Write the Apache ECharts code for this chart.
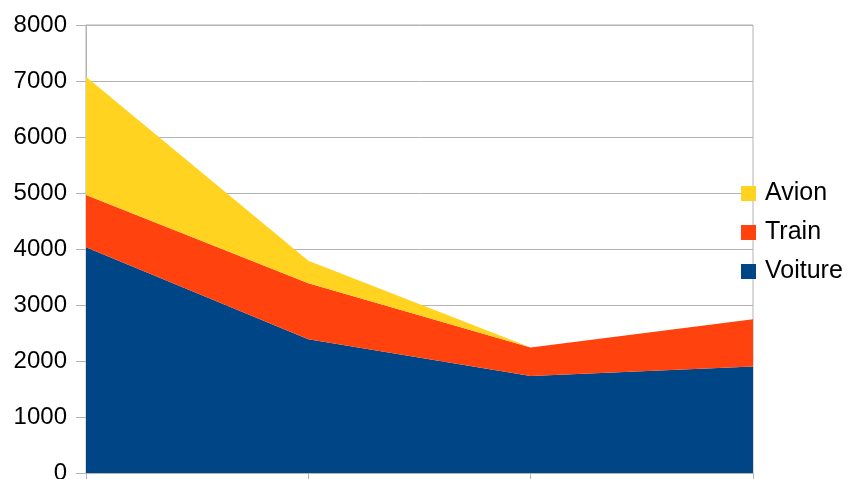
<!DOCTYPE html>
<html>
<head>
<meta charset="utf-8">
<script src="https://cdn.jsdelivr.net/npm/echarts@6/dist/echarts.min.js"></script>
<style>
html,body{margin:0;padding:0;background:#fff;}
#chart{width:847px;height:479px;}
</style>
</head>
<body>
<div id="chart"></div>
<script>
const categories = ['1', '2', '3', '4'];
const voiture = [4030, 2390, 1730, 1900];
const train = [935, 1000, 510, 845];
const avion = [2110, 400, 0, 0];
const yTicks = { min: 0, max: 8000, interval: 1000 };

const chart = echarts.init(document.getElementById('chart'));
const font = 'Liberation Sans, Arial, sans-serif';
const gridColor = '#b3b3b3';
function areaSeries(name, data, color) {
  return {
    name: name, type: 'line', stack: 'total', data: data,
    symbol: 'none', lineStyle: { width: 0 },
    areaStyle: { color: color, opacity: 1 },
    itemStyle: { color: color },
    emphasis: { disabled: true }
  };
}
chart.setOption({
  animation: false,
  backgroundColor: '#fff',
  grid: { left: 86, right: 94, top: 25, bottom: 6, outerBoundsMode: 'none', containLabel: false, show: true, borderColor: gridColor, borderWidth: 1, backgroundColor: 'transparent' },
  legend: {
    orient: 'vertical', left: 741, top: 181,
    data: ['Avion', 'Train', 'Voiture'],
    icon: 'rect', itemWidth: 15, itemHeight: 15, itemGap: 14,
    textStyle: { fontFamily: font, fontSize: 25, color: '#000', lineHeight: 25, padding: [0, 0, 0, 4] },
    padding: 0
  },
  xAxis: {
    type: 'category', data: categories, boundaryGap: false,
    axisLine: { show: true, lineStyle: { color: gridColor } },
    axisTick: { show: true, length: 10, lineStyle: { color: gridColor } },
    axisLabel: { show: false },
    splitLine: { show: false }
  },
  yAxis: {
    type: 'value', min: yTicks.min, max: yTicks.max, interval: yTicks.interval,
    axisLine: { show: true, lineStyle: { color: gridColor } },
    axisTick: { show: true, length: 10, lineStyle: { color: gridColor } },
    axisLabel: { fontFamily: font, fontSize: 24, color: '#000', margin: 19, formatter: function (v) { return String(v); } },
    splitLine: { show: true, lineStyle: { color: gridColor, width: 1 } }
  },
  series: [
    areaSeries('Voiture', voiture, '#004586'),
    areaSeries('Train', train, '#ff420e'),
    areaSeries('Avion', avion, '#ffd320')
  ]
});
</script>
</body>
</html>
